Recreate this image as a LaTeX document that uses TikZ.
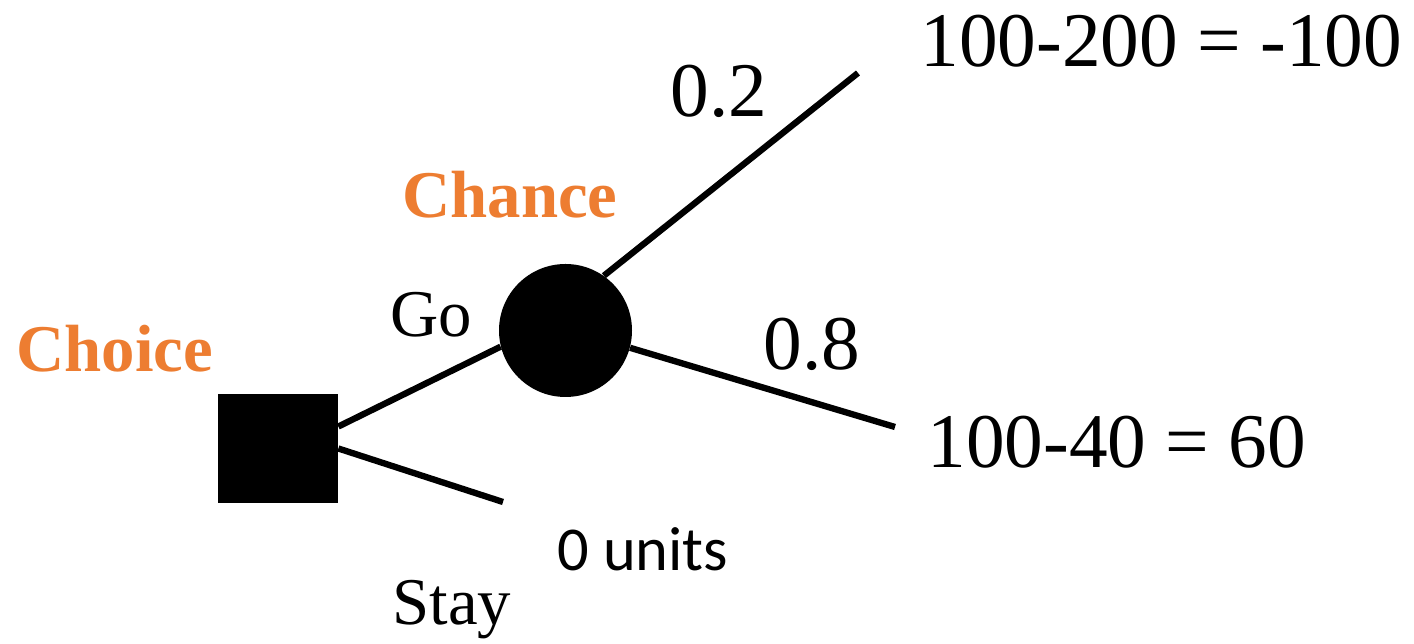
\documentclass[tikz,border=0pt]{standalone}
\usepackage{fontspec}
\setmainfont{Liberation Serif}
\newfontfamily\unitfont{Carlito}
\usetikzlibrary{positioning,shapes.geometric}
\definecolor{treeOrange}{RGB}{237,125,49}

\begin{document}
\begin{tikzpicture}[
    choicebox/.style={rectangle, fill=black, inner sep=0pt,
               minimum width=2.4cm, minimum height=2.18cm},
    chancedot/.style={circle, fill=black, inner sep=0pt, minimum size=2.66cm},
    branch/.style={line width=3.6pt, black},
    head/.style={font=\fontsize{38}{44}\selectfont\bfseries, text=treeOrange,
               inner sep=0pt, anchor=base west},
    act/.style={font=\fontsize{38}{44}\selectfont, inner sep=0pt, anchor=base west},
    num/.style={font=\fontsize{44}{50}\selectfont, inner sep=0pt, anchor=base west}
  ]
  \useasboundingbox (0,0) rectangle (28.28,12.88);

  \node[choicebox] (choice) at (5.56, 3.91) {};
  \node[chancedot] (chance) at (11.31, 6.27) {};

  \coordinate (stayend) at (10.06, 2.84);
  \coordinate (lossend) at (17.16, 11.42);
  \coordinate (gainend) at (17.90, 4.34);

  \draw[branch] (choice.20)  -- (chance.194);
  \draw[branch] (choice.east) -- (stayend);
  \draw[branch] (chance.55)  -- (lossend);
  \draw[branch] (chance.-15) -- (gainend);

  \node[head] (choicelbl) at (0.32, 5.44) {Choice};
  \node[head] (chancelbl) at (8.04, 8.52) {Chance};
  \node[act]  (golbl)     at (7.80, 6.14) {Go};
  \node[act]  (staylbl)   at (7.84, 0.38) {Stay};
  \node[inner sep=0pt, anchor=base west, font=\unitfont\fontsize{35.5}{40}\selectfont]
        (unitlbl) at (11.14, 1.46) {0 units};
  \node[num]  (plow)      at (13.40, 10.54) {0.2};
  \node[num]  (phigh)     at (15.26, 5.48) {0.8};
  \node[num]  (losslbl)   at (18.40, 11.54) {100-200 = -100};
  \node[num]  (gainlbl)   at (18.54, 3.52) {100-40 = 60};
\end{tikzpicture}
\end{document}
